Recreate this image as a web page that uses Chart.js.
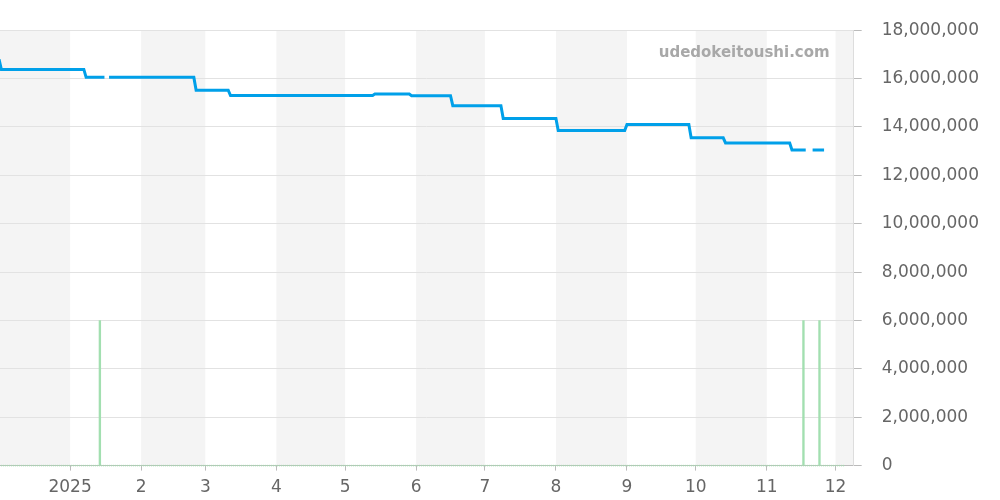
<!DOCTYPE html>
<html><head><meta charset="utf-8">
<script src="https://cdn.jsdelivr.net/npm/chart.js@4.4.1/dist/chart.umd.min.js"></script>
<style>html,body{margin:0;padding:0;background:#fff}#wrap{width:1000px;height:500px;position:relative}</style>
</head><body><div id="wrap"><canvas id="c"></canvas></div>
<script>
// ---- data ----
const priceDates = ['2024-12-01','2024-12-02','2025-01-07','2025-01-08','2025-01-16','2025-01-17','2025-01-18',
  '2025-02-24','2025-02-25','2025-03-11','2025-03-12','2025-05-13','2025-05-14','2025-05-29','2025-05-30',
  '2025-06-16','2025-06-17','2025-07-08','2025-07-09','2025-08-01','2025-08-02','2025-08-31','2025-09-01',
  '2025-09-28','2025-09-29','2025-10-13','2025-10-14','2025-11-11','2025-11-12','2025-11-18','2025-11-19',
  '2025-11-20','2025-11-21','2025-11-26'];
const priceValues = [16800000,16380000,16380000,16050000,16050000,null,16050000,
  16050000,15520000,15520000,15300000,15300000,15360000,15360000,15290000,
  15290000,14880000,14880000,14350000,14350000,13850000,13850000,14100000,
  14100000,13550000,13550000,13340000,13340000,13050000,13050000,null,
  null,13050000,13050000];
const volumeDates = ['2025-01-14','2025-11-17','2025-11-24'];
const volumeValues = [6000000,6000000,6000000];
const baselineDates = ['2024-12-01','2025-12-05'];
const baselineValues = [0,0];
const monthStarts = ['2024-12-01','2025-01-01','2025-02-01','2025-03-01','2025-04-01','2025-05-01','2025-06-01',
  '2025-07-01','2025-08-01','2025-09-01','2025-10-01','2025-11-01','2025-12-01'];
const monthLabels = ['12','2025','2','3','4','5','6','7','8','9','10','11','12'];
const yTickValues = [0,2000000,4000000,6000000,8000000,10000000,12000000,14000000,16000000,18000000];
const xRange = ['2024-12-01T10:00:00Z','2025-12-08T22:00:00Z'];
const watermark = 'udedokeitoushi.com';

// ---- helpers ----
const EPOCH = Date.UTC(2025,0,1);
function day(s){ if(s.length===10) s += 'T00:00:00Z'; return (Date.parse(s)-EPOCH)/86400000; }
const xMin = day(xRange[0]), xMax = day(xRange[1]);
const monthDays = monthStarts.map(day);

const bandPlugin = {
  id:'bands',
  beforeDraw(chart){
    const {ctx, chartArea:a, scales:{x}} = chart;
    ctx.save();
    ctx.fillStyle = '#fff';
    ctx.fillRect(0,0,chart.width,chart.height);
    ctx.beginPath(); ctx.rect(a.left,a.top,a.right-a.left,a.bottom-a.top); ctx.clip();
    ctx.fillStyle = '#f4f4f4';
    for(let i=0;i<monthDays.length;i+=2){
      const s = x.getPixelForValue(monthDays[i]);
      const e = x.getPixelForValue(i+1<monthDays.length ? monthDays[i+1] : xMax+5);
      ctx.fillRect(s,a.top,e-s,a.bottom-a.top);
    }
    ctx.restore();
  },
  afterDraw(chart){
    const {ctx, chartArea:a} = chart;
    ctx.save();
    ctx.font = 'bold 15px "DejaVu Sans"';
    ctx.fillStyle = '#a8a8a8';
    ctx.textAlign = 'right';
    ctx.textBaseline = 'middle';
    ctx.fillText(watermark, a.right-24, a.top+23);
    ctx.restore();
  }
};

new Chart(document.getElementById('c'), {
  data:{
    datasets:[
      {type:'line', label:'price', data: priceDates.map((d,i)=>({x:day(d), y:priceValues[i]})),
       borderColor:'#00a0e9', borderWidth:3, pointRadius:0, tension:0, spanGaps:false, order:1},
      {type:'bar', label:'volume', data: volumeDates.map((d,i)=>({x:day(d), y:volumeValues[i]})),
       backgroundColor:'#a2dfb0', barThickness:1.7, order:2},
      {type:'line', label:'base', data: baselineDates.map((d,i)=>({x:day(d), y:baselineValues[i]})),
       borderColor:'#a6dcb0', borderWidth:1.5, borderDash:[1,1], pointRadius:0, clip:false, order:3}
    ]
  },
  options:{
    responsive:true, maintainAspectRatio:false, animation:false,
    layout:{padding:{top:20,right:1,bottom:-5,left:0}},
    plugins:{legend:{display:false}, tooltip:{enabled:false}},
    scales:{
      x:{type:'linear', min:xMin, max:xMax, offset:false,
        afterBuildTicks(s){ s.ticks = monthDays.filter(v=>v>=xMin&&v<=xMax).map(v=>({value:v})); },
        ticks:{autoSkip:false, maxRotation:0, color:'#666', padding:7,
          font:{family:'"DejaVu Sans"', size:17},
          callback(v){ const i = monthDays.indexOf(v); return i>=0 ? monthLabels[i] : ''; }},
        grid:{offset:false, drawOnChartArea:false, drawTicks:true, tickLength:5, color:'#bbb'},
        border:{display:true, color:'#bbb'}
      },
      y:{type:'linear', position:'right', min:0, max:18000000,
        afterBuildTicks(s){ s.ticks = yTickValues.map(v=>({value:v})); },
        ticks:{color:'#666', padding:20, font:{family:'"DejaVu Sans"', size:17},
          callback(v){ return v.toLocaleString('en-US'); }},
        grid:{color:'#e2e2e2', tickLength:8, tickColor:'#bbb'},
        border:{display:true, color:'#ddd'}
      }
    }
  },
  plugins:[bandPlugin]
});
</script></body></html>
